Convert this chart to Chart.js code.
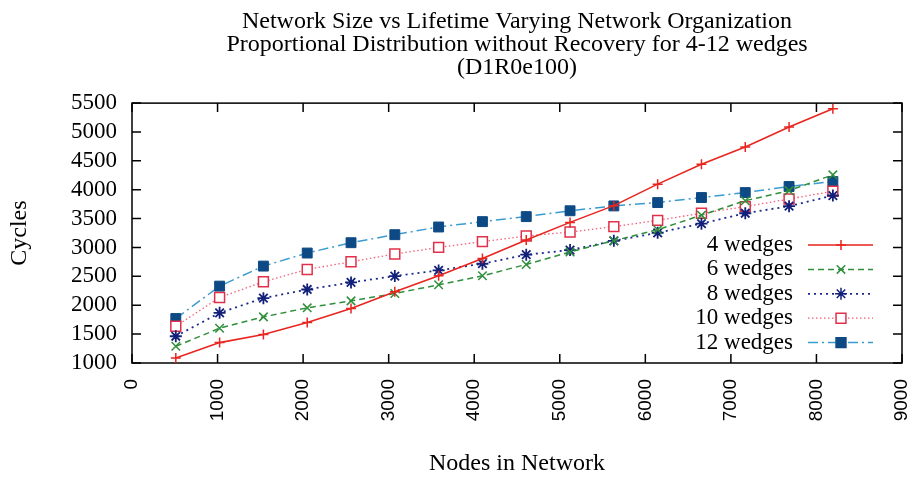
<!DOCTYPE html>
<html>
<head>
<meta charset="utf-8">
<script src="https://cdn.jsdelivr.net/npm/chart.js@4.4.1/dist/chart.umd.min.js"></script>
<style>
  html, body { margin: 0; padding: 0; background: #fff; }
  #wrap { width: 914px; height: 481px; }
</style>
</head>
<body>
<div id="wrap"><canvas id="c" width="914" height="481"></canvas></div>
<script>
// nodes in network (x) and lifetime in cycles per wedge count
const nodes = [512, 1024, 1536, 2048, 2560, 3072, 3584, 4096, 4608, 5120, 5632, 6144, 6656, 7168, 7680, 8192];
const w4  = [1087, 1353, 1492, 1700, 1943, 2233, 2510, 2811, 3130, 3435, 3725, 4097, 4440, 4740, 5086, 5404];
const w6  = [1289, 1602, 1799, 1955, 2076, 2204, 2354, 2510, 2707, 2922, 3118, 3308, 3560, 3810, 3985, 4258];
const w8  = [1463, 1868, 2123, 2273, 2395, 2505, 2603, 2719, 2875, 2956, 3115, 3255, 3413, 3593, 3715, 3900];
const w10 = [1637, 2134, 2406, 2620, 2753, 2887, 3002, 3101, 3199, 3268, 3361, 3470, 3593, 3708, 3840, 3975];
const w12 = [1770, 2331, 2678, 2904, 3083, 3222, 3355, 3448, 3535, 3636, 3720, 3778, 3865, 3951, 4056, 4142];
const seriesLabels = ['4 wedges', '6 wedges', '8 wedges', '10 wedges', '12 wedges'];
const titleLines = [
  'Network Size vs Lifetime Varying Network Organization',
  'Proportional Distribution without Recovery for 4-12 wedges',
  '(D1R0e100)'
];

const serif = "'Liberation Serif','Times New Roman',serif";
const sans = "'Liberation Sans',Arial,sans-serif";
const pts = ys => nodes.map((x, i) => ({ x, y: ys[i] }));

// drawn by hand for the legend samples
function marker(ctx, style, x, y, r, stroke, fill) {
  ctx.save();
  ctx.setLineDash([]);
  ctx.strokeStyle = stroke; ctx.fillStyle = fill; ctx.lineWidth = 1.5;
  ctx.beginPath();
  if (style === 'cross' || style === 'star') {
    ctx.moveTo(x - r, y); ctx.lineTo(x + r, y);
    ctx.moveTo(x, y - r); ctx.lineTo(x, y + r);
  }
  if (style === 'crossRot' || style === 'star') {
    const d = r * Math.SQRT1_2;
    ctx.moveTo(x - d, y - d); ctx.lineTo(x + d, y + d);
    ctx.moveTo(x - d, y + d); ctx.lineTo(x + d, y - d);
  }
  if (style === 'rect') {
    const s = r * Math.SQRT1_2;
    ctx.rect(x - s, y - s, 2 * s, 2 * s);
    ctx.fill();
  }
  ctx.stroke();
  ctx.restore();
}

const frame = {
  id: 'frame',
  beforeDatasetsDraw(chart) {
    const { ctx, chartArea: a, scales: { x, y } } = chart;
    ctx.save();
    ctx.strokeStyle = '#000'; ctx.lineWidth = 1.5;
    ctx.strokeRect(a.left, a.top, a.right - a.left, a.bottom - a.top);
    ctx.beginPath();
    x.ticks.forEach(t => {
      const px = x.getPixelForValue(t.value);
      ctx.moveTo(px, a.bottom); ctx.lineTo(px, a.bottom - 9);
      ctx.moveTo(px, a.top); ctx.lineTo(px, a.top + 9);
    });
    y.ticks.forEach(t => {
      const py = y.getPixelForValue(t.value);
      ctx.moveTo(a.left, py); ctx.lineTo(a.left + 9, py);
      ctx.moveTo(a.right, py); ctx.lineTo(a.right - 9, py);
    });
    ctx.stroke();
    ctx.restore();
  }
};

const keyBox = {
  id: 'keyBox',
  afterDatasetsDraw(chart) {
    const ctx = chart.ctx;
    ctx.save();
    chart.data.datasets.forEach((ds, i) => {
      const yy = 245 + i * 24.4;
      ctx.font = '23px ' + serif;
      ctx.fillStyle = '#000';
      ctx.textAlign = 'right'; ctx.textBaseline = 'middle';
      ctx.fillText(ds.label, 793, yy);
      ctx.beginPath();
      ctx.strokeStyle = ds.borderColor; ctx.lineWidth = ds.borderWidth;
      ctx.setLineDash(ds.borderDash || []);
      ctx.moveTo(808, yy); ctx.lineTo(873, yy);
      ctx.stroke();
      marker(ctx, ds.pointStyle, 841, yy, ds.pointRadius, ds.pointBorderColor, ds.pointBackgroundColor);
    });
    ctx.restore();
  }
};

new Chart(document.getElementById('c'), {
  type: 'line',
  data: {
    datasets: [
      {
        label: seriesLabels[0], data: pts(w4),
        borderColor: '#e8251f', borderWidth: 1.6,
        pointStyle: 'cross', pointRadius: 5, pointBorderColor: '#e8251f', pointBackgroundColor: '#e8251f', pointBorderWidth: 1.5
      },
      {
        label: seriesLabels[1], data: pts(w6),
        borderColor: '#2f8f3a', borderWidth: 1.5, borderDash: [6, 4],
        pointStyle: 'crossRot', pointRadius: 6, pointBorderColor: '#2f8f3a', pointBackgroundColor: '#2f8f3a', pointBorderWidth: 1.5
      },
      {
        label: seriesLabels[2], data: pts(w8),
        borderColor: '#1a2a8a', borderWidth: 1.8, borderDash: [2, 4],
        pointStyle: 'star', pointRadius: 6, pointBorderColor: '#13207a', pointBackgroundColor: '#13207a', pointBorderWidth: 1.8
      },
      {
        label: seriesLabels[3], data: pts(w10),
        borderColor: '#f0607a', borderWidth: 1.3, borderDash: [1.5, 2.5],
        pointStyle: 'rect', pointRadius: 7, pointBorderColor: '#e0304a', pointBackgroundColor: '#fff', pointBorderWidth: 1.5
      },
      {
        label: seriesLabels[4], data: pts(w12),
        borderColor: '#3b9bd0', borderWidth: 1.5, borderDash: [10, 4, 2, 4],
        pointStyle: 'rect', pointRadius: 7, pointBorderColor: '#0d4a85', pointBackgroundColor: '#0d4a85', pointBorderWidth: 1
      }
    ]
  },
  options: {
    responsive: false, animation: false,
    layout: { padding: { left: 0, right: 12, top: 0, bottom: 0 } },
    plugins: {
      legend: { display: false },
      tooltip: { enabled: false },
      title: {
        display: true, fullSize: false, text: titleLines, color: '#000',
        font: { family: serif, size: 24, weight: 'normal', lineHeight: 0.96 },
        padding: { top: 10, bottom: 24 }
      }
    },
    scales: {
      x: {
        type: 'linear', min: 0, max: 9000,
        afterFit: s => { s.height = 118; s.paddingLeft = 0; s.paddingRight = 0; },
        ticks: { stepSize: 1000, minRotation: 90, maxRotation: 90, autoSkip: false, padding: 16, color: '#000', font: { family: sans, size: 19 }, callback: v => String(v) },
        grid: { display: false, drawTicks: false },
        border: { display: false },
        title: { display: true, text: 'Nodes in Network', color: '#000', font: { family: serif, size: 24, lineHeight: 1 }, padding: { top: 0, bottom: 5 } }
      },
      y: {
        min: 1000, max: 5500,
        afterFit: s => { s.width = 132; s.paddingTop = 0; s.paddingBottom = 0; },
        ticks: { stepSize: 500, autoSkip: false, padding: 15, color: '#000', font: { family: serif, size: 23 }, callback: v => String(v) },
        grid: { display: false, drawTicks: false },
        border: { display: false },
        title: { display: true, text: 'Cycles', color: '#000', font: { family: serif, size: 24, lineHeight: 1 }, padding: { top: 8, bottom: 0 } }
      }
    }
  },
  plugins: [frame, keyBox]
});
</script>
</body>
</html>
